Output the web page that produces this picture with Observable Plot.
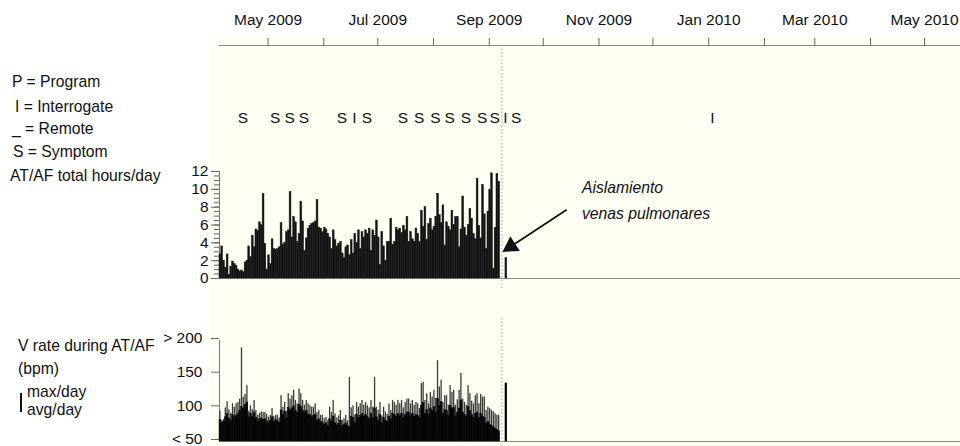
<!DOCTYPE html>
<html><head><meta charset="utf-8">
<script src="https://cdn.jsdelivr.net/npm/d3@7"></script>
<script src="https://cdn.jsdelivr.net/npm/@observablehq/plot@0.6"></script>
<style>
html,body{margin:0;padding:0;background:#fff;}
#chart{position:relative;width:960px;height:446px;overflow:hidden;font-family:"Liberation Sans",Arial,Helvetica,sans-serif;color:#111;}
#chart svg{position:absolute;left:0;overflow:visible;}
.bg{position:absolute;left:210px;top:36px;width:750px;height:410px;background:#fffef2;}
.lbl{position:absolute;font-size:15.7px;line-height:18px;white-space:nowrap;}
.it{font-style:italic;}
.bar{position:absolute;left:20px;top:393px;width:1.5px;height:19px;background:#111;}
</style></head><body>
<div id="chart"><div class="bg"></div></div>
<script>
// ---- data ----
const startDate = "2009-04-04";
const endDate = "2010-05-21";
const ablationDate = "2009-09-08";
const afHours = [
 2.7,3.6,2.0,1.2,2.7,0.4,1.3,1.9,1.6,1.4,
 1.0,0.8,0.9,0.7,1.8,2.0,3.6,2.4,4.8,3.5,
 5.5,5.3,6.3,6.0,9.5,3.9,1.0,2.6,1.6,4.4,
 3.3,3.2,3.3,3.5,6.2,3.8,4.0,5.2,5.4,9.7,
 4.6,6.9,6.3,4.1,5.0,8.6,6.4,3.1,4.5,5.6,
 5.9,6.1,6.2,6.4,8.8,5.7,5.6,5.2,5.7,5.5,
 5.0,4.6,3.3,5.4,4.3,3.6,3.9,4.1,2.8,2.3,
 3.5,3.7,2.6,4.3,2.8,5.0,4.0,5.4,3.3,5.2,
 4.6,5.4,5.0,5.6,3.1,5.4,4.8,6.5,4.6,1.5,
 5.2,3.6,2.0,4.1,4.1,6.7,3.8,4.1,5.7,5.4,
 5.6,5.1,5.9,5.4,6.9,4.1,5.2,4.4,4.1,5.6,
 5.0,4.1,7.6,5.8,8.0,4.3,6.1,6.7,5.4,5.8,
 6.9,9.5,7.1,6.2,8.2,3.7,6.3,5.8,5.4,7.6,
 6.0,6.9,6.9,3.5,5.5,9.2,5.7,4.8,6.0,7.8,
 6.7,5.0,4.4,11.2,5.9,4.5,10.5,7.2,3.3,7.5,
 9.9,11.8,1.1,5.7,11.7,10.8
];
const vMax = [
 95,81,83,100,109,97,92,106,101,106,
 108,113,189,116,120,133,95,103,97,111,
 96,89,92,94,93,93,90,86,89,99,
 87,89,89,85,118,101,108,95,121,113,
 118,126,111,106,128,121,111,104,111,106,
 103,101,101,106,93,96,89,89,84,86,
 81,101,93,111,91,85,88,96,81,84,
 89,81,145,100,103,89,108,101,106,111,
 104,108,103,100,111,101,145,101,96,108,
 88,101,94,90,106,96,111,108,104,111,
 106,111,100,108,113,113,106,111,104,108,
 106,99,136,138,111,121,106,123,116,126,
 114,170,131,141,108,118,118,104,133,123,
 126,104,112,126,151,113,108,104,133,121,
 110,106,118,121,106,120,116,116,96,101,
 99,96,94,91,89,89
];
const vAvg = [
 82,77,79,86,91,84,81,89,86,88,
 91,95,101,98,104,108,86,91,86,93,
 85,80,83,84,82,83,80,78,81,86,
 79,82,80,78,96,89,94,85,100,96,
 99,102,95,92,104,101,96,92,95,90,
 89,86,88,90,81,83,79,78,75,77,
 73,83,79,87,77,74,76,81,73,75,
 77,73,71,87,85,78,89,85,88,91,
 87,89,86,83,91,85,99,86,81,89,
 77,85,81,79,87,83,91,89,87,91,
 88,91,85,89,93,93,88,91,87,89,
 88,85,103,107,91,97,89,99,95,101,
 93,113,103,109,91,97,95,88,103,99,
 100,87,93,99,111,93,89,87,101,95,
 89,85,91,93,85,91,87,85,77,79,
 75,73,71,69,67,65
];
const postDate = "2009-09-10";
const postAfHours = 2.3;
const postVAvg = 136;
const postVMax = 137;
const eventDates = ["2009-04-17","2009-05-05","2009-05-13","2009-05-21","2009-06-11","2009-06-18","2009-06-25",
 "2009-07-15","2009-07-24","2009-08-02","2009-08-10","2009-08-19","2009-08-28","2009-09-04","2009-09-10","2009-09-16","2010-01-03"];
const eventCodes = ["S","S","S","S","S","I","S","S","S","S","S","S","S","S","I","S","I"];
const afMajorTicks = [0,2,4,6,8,10,12];
const afMinorTicks = [0,0.5,1,1.5,2,2.5,3,3.5,4,4.5,5,5.5,6,6.5,7,7.5,8,8.5,9,9.5,10,10.5,11,11.5,12];
const vTicks = [50,100,150,200];
const vTickLabels = ["< 50","100","150","> 200"];
const legendItems = ["P = Program","I = Interrogate","_ = Remote","S = Symptom","AT/AF total hours/day"];
const vLegendItems = ["V rate during AT/AF","(bpm)","max/day","avg/day"];
const annotationLines = ["Aislamiento","venas pulmonares"];
const arrowFromDate = "2009-10-14", arrowFromHours = 7.7;
const arrowToDate = "2009-09-13", arrowToHours = 3.6;

// ---- build ----
const parse = d3.utcParse("%Y-%m-%d");
const x0 = parse(startDate);
const xDomain = [x0, parse(endDate)];
const days = afHours.map((h, i) => ({date: d3.utcDay.offset(x0, i), hours: h, avg: vAvg[i], max: vMax[i]}));
days.push({date: parse(postDate), hours: postAfHours, avg: postVAvg, max: postVMax});
const events = eventDates.map((d, i) => ({date: parse(d), code: eventCodes[i]}));
const arrowDatum = {x1: parse(arrowFromDate), y1: arrowFromHours, x2: parse(arrowToDate), y2: arrowToHours};
const x2 = d => d3.utcDay.offset(d.date, 1);
const font = '"Liberation Sans", Arial, Helvetica, sans-serif';
const baseStyle = {background: "transparent", fontFamily: font, fontSize: "15.5px", color: "#111", overflow: "visible"};
const fmt = d3.utcFormat("%b %Y");
const chart = document.getElementById("chart");

function place(svg, top) { svg.style.top = top + "px"; chart.appendChild(svg); }

const topPlot = Plot.plot({
  width: 960, height: 290, marginLeft: 219, marginRight: 0, marginTop: 45, marginBottom: 0,
  style: baseStyle,
  x: {type: "utc", domain: xDomain, axis: null},
  y: {domain: [0, 1], axis: null},
  marks: [
    Plot.ruleY([1], {stroke: "#8c8c8c", strokeWidth: 1.2}),
    Plot.axisX({anchor: "top", ticks: d3.utcMonth, tickSize: 8, tickPadding: 13, stroke: "#666", fill: "#111",
      tickFormat: d => d.getUTCMonth() % 2 === 0 ? fmt(d) : "", label: null}),
    Plot.ruleX([parse(ablationDate)], {stroke: "#a8a8a8", strokeDasharray: "1.5,2"}),
    Plot.text(events, {x: "date", text: "code", frameAnchor: "top", dy: 66, fill: "#111"})
  ]
});
place(topPlot, 0);

const afOptions = {
  width: 960, height: 130, marginLeft: 219, marginRight: 0, marginTop: 21, marginBottom: 2,
  style: baseStyle,
  x: {type: "utc", domain: xDomain, axis: null},
  y: {domain: [0, 12], axis: null, label: null}
};
// first pass only to read the scales for the arrow-head angle
const probe = Plot.plot({...afOptions, marks: [Plot.ruleY([0])]});
const sx = probe.scale("x"), sy = probe.scale("y");
const adx = sx.apply(arrowDatum.x2) - sx.apply(arrowDatum.x1);
const ady = sy.apply(arrowDatum.y2) - sy.apply(arrowDatum.y1);
const headRotate = Math.atan2(adx, -ady) * 180 / Math.PI;

const afPlot = Plot.plot({
  ...afOptions,
  marks: [
    Plot.ruleY([0], {stroke: "#8c8c8c", strokeWidth: 1.2}),
    Plot.ruleX([xDomain[0]], {stroke: "#777"}),
    Plot.axisY(afMinorTicks, {tickSize: 5, tickFormat: () => "", stroke: "#666", label: null}),
    Plot.axisY(afMajorTicks, {tickSize: 8, tickPadding: 3, stroke: "#666", fill: "#111", label: null}),
    Plot.rect(days, {x1: "date", x2, y1: 0, y2: "hours", fill: "#111", stroke: "#1a1a1a", strokeWidth: 0.5}),
    Plot.link([arrowDatum], {x1: "x1", y1: "y1", x2: "x2", y2: "y2", stroke: "#111", strokeWidth: 1.8}),
    Plot.dot([arrowDatum], {x: "x2", y: "y2", symbol: "triangle", r: 5.5, fill: "#111", stroke: "#111", rotate: headRotate})
  ]
});
place(afPlot, 150);

const vPlot = Plot.plot({
  width: 960, height: 126, marginLeft: 219, marginRight: 0, marginTop: 20, marginBottom: 5,
  style: baseStyle,
  x: {type: "utc", domain: xDomain, axis: null},
  y: {domain: [50, 200], axis: null, label: null},
  marks: [
    Plot.ruleY([50], {stroke: "#8c8c8c", strokeWidth: 1.2}),
    Plot.ruleX([xDomain[0]], {stroke: "#777"}),
    Plot.axisY(vTicks, {tickSize: 8, tickPadding: 9, stroke: "#666", fill: "#111", label: null, dy: -2,
      tickFormat: d => vTickLabels[vTicks.indexOf(d)]}),
    Plot.ruleX([parse(ablationDate)], {stroke: "#a8a8a8", strokeDasharray: "1.5,2", insetTop: -22, insetBottom: -5}),
    Plot.rect(days, {x1: "date", x2, y1: 50, y2: "max", fill: "#3a3a3a", insetLeft: 0.25, insetRight: 0.25}),
    Plot.rect(days, {x1: "date", x2, y1: 50, y2: "avg", fill: "#050505", stroke: "#050505", strokeWidth: 0.5})
  ]
});
place(vPlot, 320);

// ---- text labels ----
function label(text, left, top, cls) {
  const el = document.createElement("div");
  el.className = "lbl" + (cls ? " " + cls : "");
  el.textContent = text;
  el.style.left = left + "px";
  el.style.top = top + "px";
  chart.appendChild(el);
}
const legendPos = [[12,73],[15,98],[12,120],[13,143],[10,167]];
legendItems.forEach((t, i) => label(t, legendPos[i][0], legendPos[i][1]));
const vLegendPos = [[18,337],[18,360],[27,383],[27,401]];
vLegendItems.forEach((t, i) => label(t, vLegendPos[i][0], vLegendPos[i][1]));
const bar = document.createElement("div"); bar.className = "bar"; chart.appendChild(bar);
const annPos = [[582,179],[582,205]];
annotationLines.forEach((t, i) => label(t, annPos[i][0], annPos[i][1], "it"));
</script>
</body></html>
